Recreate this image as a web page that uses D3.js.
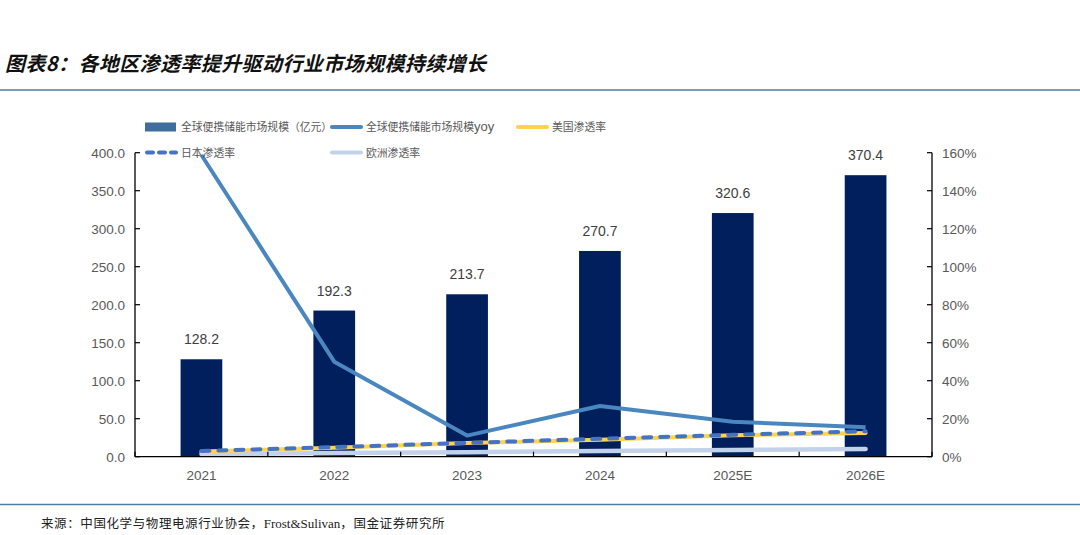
<!DOCTYPE html>
<html><head><meta charset="utf-8">
<script src="https://cdn.jsdelivr.net/npm/d3@7"></script>
<style>
html,body{margin:0;padding:0;background:#fff;}
svg{display:block;}
</style></head>
<body>
<svg id="chart" width="1080" height="535"></svg>
<script>
const categories = ["2021","2022","2023","2024","2025E","2026E"];
const marketSize = [128.2,192.3,213.7,270.7,320.6,370.4];
const marketYoy = [1.588,0.500,0.111,0.267,0.184,0.155];
const usRate = [0.028,0.047,0.072,0.089,0.113,0.125];
const japanRate = [0.030,0.050,0.073,0.094,0.115,0.134];
const europeRate = [0.014,0.019,0.024,0.030,0.035,0.040];
const leftTicks = [0,50,100,150,200,250,300,350,400];
const rightTicks = [0,0.2,0.4,0.6,0.8,1.0,1.2,1.4,1.6];

const titleText = "图表8：各地区渗透率提升驱动行业市场规模持续增长";

const svg = d3.select("#chart");
const cjk = "'Noto Sans CJK SC', sans-serif";
const sans = "'Liberation Sans', Arial, sans-serif";

const L = 135, R = 932, T = 152.7, B = 456.7;
const x = d3.scaleBand().domain(categories).range([L, R]).paddingInner(0.686).paddingOuter(0.343);
const xc = d3.scaleBand().domain(categories).range([L, R]);
const yL = d3.scaleLinear().domain([0,400]).range([B, T]);
const yR = d3.scaleLinear().domain([0,1.6]).range([B, T]);
const cx = c => xc(c) + xc.bandwidth()/2;

// Title
svg.append("text").attr("x", 5).attr("y", 71)
  .attr("font-family", cjk).attr("font-size", 20).attr("font-weight", "bold")
  .attr("font-style", "italic").attr("letter-spacing", 0.4).attr("fill", "#111").text(titleText);
svg.append("line").attr("x1", 0).attr("x2", 1080).attr("y1", 90).attr("y2", 90)
  .attr("stroke", "#4d7ea0").attr("stroke-width", 1.5);

// Bars
svg.append("g").selectAll("rect").data(categories).join("rect")
  .attr("x", d => x(d)).attr("width", x.bandwidth())
  .attr("y", (d,i) => yL(marketSize[i])).attr("height", (d,i) => B - yL(marketSize[i]))
  .attr("fill", "#001f5c");

// Data labels
svg.append("g").selectAll("text").data(categories).join("text")
  .attr("x", d => cx(d)).attr("y", (d,i) => yL(marketSize[i]) - 15)
  .attr("text-anchor", "middle").attr("font-family", sans).attr("font-size", 14)
  .attr("fill", "#404040").text((d,i) => marketSize[i].toFixed(1));

// Lines
const lineGen = vals => d3.line().x((d,i) => cx(categories[i])).y(d => yR(d))(vals);
svg.append("path").attr("d", lineGen(europeRate)).attr("fill","none")
  .attr("stroke","#c2d2ea").attr("stroke-width",4.5).attr("stroke-linecap","round");
svg.append("path").attr("d", lineGen(usRate)).attr("fill","none")
  .attr("stroke","#ffd34d").attr("stroke-width",4).attr("stroke-linecap","round");
svg.append("path").attr("d", lineGen(japanRate)).attr("fill","none")
  .attr("stroke","#4472c4").attr("stroke-width",4).attr("stroke-linecap","round").attr("stroke-dasharray","8,9");
svg.append("path").attr("d", lineGen(marketYoy)).attr("fill","none")
  .attr("stroke","#4a86c0").attr("stroke-width",4).attr("stroke-linejoin","round");

// Axes
const gx = svg.append("g").attr("transform", `translate(0,${B})`);
gx.append("line").attr("x1", L).attr("x2", R).attr("stroke", "#000").attr("stroke-width", 1.3);
gx.selectAll("line.t").data(d3.range(categories.length+1)).join("line").attr("class","t")
  .attr("x1", i => L + i*xc.bandwidth()).attr("x2", i => L + i*xc.bandwidth())
  .attr("y1", 0).attr("y2", -5).attr("stroke", "#000").attr("stroke-width", 1.2);
gx.selectAll("text").data(categories).join("text")
  .attr("x", d => cx(d)).attr("y", 23).attr("text-anchor","middle")
  .attr("font-family", sans).attr("font-size", 13.5).attr("fill", "#595959").text(d => d);

const gl = svg.append("g");
gl.append("line").attr("x1", L).attr("x2", L).attr("y1", T).attr("y2", B).attr("stroke","#000").attr("stroke-width",1.3);
gl.selectAll("line.t").data(leftTicks).join("line").attr("class","t")
  .attr("x1", L).attr("x2", L+5).attr("y1", d => yL(d)).attr("y2", d => yL(d))
  .attr("stroke","#000").attr("stroke-width",1.2);
gl.selectAll("text").data(leftTicks).join("text")
  .attr("x", 125).attr("y", d => yL(d) + 5).attr("text-anchor","end")
  .attr("font-family", sans).attr("font-size", 13.5).attr("fill", "#595959").text(d => d.toFixed(1));

const gr = svg.append("g");
gr.append("line").attr("x1", R).attr("x2", R).attr("y1", T).attr("y2", B).attr("stroke","#000").attr("stroke-width",1.3);
gr.selectAll("line.t").data(rightTicks).join("line").attr("class","t")
  .attr("x1", R-5).attr("x2", R).attr("y1", d => yR(d)).attr("y2", d => yR(d))
  .attr("stroke","#000").attr("stroke-width",1.2);
gr.selectAll("text").data(rightTicks).join("text")
  .attr("x", 942).attr("y", d => yR(d) + 5).attr("text-anchor","start")
  .attr("font-family", sans).attr("font-size", 13.5).attr("fill", "#595959").text(d => Math.round(d*100) + "%");

// Legend
const legend = [
  {type:"rect", color:"#3f6e9c", label:"全球便携储能市场规模（亿元）", x:145, y:127},
  {type:"line", color:"#4a86c0", label:"全球便携储能市场规模", suffix:"yoy", x:330, y:127},
  {type:"line", color:"#ffd34d", label:"美国渗透率", x:516, y:127},
  {type:"dash", color:"#4472c4", label:"日本渗透率", x:145, y:152.5},
  {type:"line", color:"#c2d2ea", label:"欧洲渗透率", x:330, y:152.5}
];
const lg = svg.append("g");
legend.forEach(it => {
  if (it.type === "rect") {
    lg.append("rect").attr("x", it.x).attr("y", it.y-4.5).attr("width", 31).attr("height", 9).attr("fill", it.color);
  } else {
    lg.append("line").attr("x1", it.x+2).attr("x2", it.x+31).attr("y1", it.y).attr("y2", it.y)
      .attr("stroke", it.color).attr("stroke-width", 4).attr("stroke-linecap","round")
      .attr("stroke-dasharray", it.type === "dash" ? "6,6" : null);
  }
  const t = lg.append("text").attr("x", it.x+36).attr("y", it.y+4)
    .attr("font-family", cjk).attr("font-size", 10.8).attr("fill", "#595959").text(it.label);
  if (it.suffix) t.append("tspan").attr("font-family", sans).attr("font-size", 13).text(it.suffix);
});

// Footer
svg.append("line").attr("x1", 0).attr("x2", 1080).attr("y1", 504.5).attr("y2", 504.5)
  .attr("stroke", "#4d7ea0").attr("stroke-width", 1.5);
const ft = svg.append("text").attr("x", 41).attr("y", 527.5)
  .attr("font-family", cjk).attr("font-size", 12.5).attr("letter-spacing", 0.6).attr("fill", "#222");
ft.append("tspan").text("来源：中国化学与物理电源行业协会，");
ft.append("tspan").attr("font-family","'Liberation Serif', serif").attr("font-size",13).attr("letter-spacing", 0).text("Frost&Sulivan");
ft.append("tspan").text("，国金证券研究所");
</script>
</body></html>
